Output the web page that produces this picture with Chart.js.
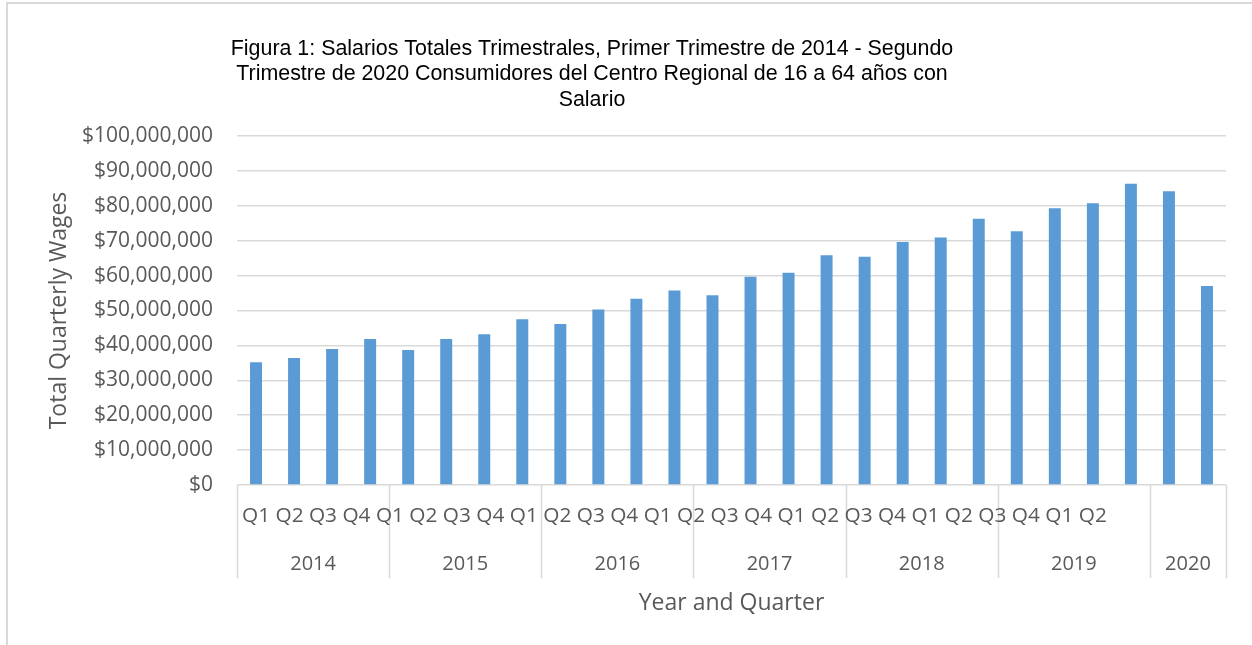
<!DOCTYPE html>
<html>
<head>
<meta charset="utf-8">
<script src="https://cdn.jsdelivr.net/npm/chart.js@4/dist/chart.umd.min.js"></script>
<style>
  html, body { margin: 0; padding: 0; background: #fff; }
  #frame {
    position: absolute; left: 6px; top: 2px; width: 1300px; height: 700px;
    border-left: 2px solid #d9d9d9; border-top: 2px solid #d9d9d9;
  }
  #wrap { position: absolute; left: 0; top: 0; width: 1252px; height: 645px; }
</style>
</head>
<body>
<div id="frame"></div>
<div id="wrap"><canvas id="chart"></canvas></div>
<script>
const ctx = document.getElementById("chart");

const titleLines = [
  "Figura 1: Salarios Totales Trimestrales, Primer Trimestre de 2014 - Segundo",
  "Trimestre de 2020 Consumidores del Centro Regional de 16 a 64 años con",
  "Salario",
];

const years = ["2014", "2015", "2016", "2017", "2018", "2019", "2020"];
const quartersPerYear = [4, 4, 4, 4, 4, 4, 2];
const quarters = [
  "Q1", "Q2", "Q3", "Q4", "Q1", "Q2", "Q3", "Q4", "Q1", "Q2", "Q3", "Q4",
  "Q1", "Q2", "Q3", "Q4", "Q1", "Q2", "Q3", "Q4", "Q1", "Q2", "Q3", "Q4",
  "Q1", "Q2",
];

// total quarterly wages
const wages = [
  35200000, 36400000, 39000000, 41800000,
  38700000, 41800000, 43200000, 47500000,
  46100000, 50300000, 53400000, 55700000,
  54400000, 59700000, 60800000, 65800000,
  65400000, 69600000, 70900000, 76300000,
  72700000, 79300000, 80700000, 86300000,
  84200000, 57000000,
];

const textGrey = "#595959";
const lineGrey = "#d9d9d9";

// Excel-style two-row category axis + chart title
const excelAxis = {
  id: "excelAxis",
  afterDraw(chart) {
    const c = chart.ctx;
    const area = chart.chartArea;
    const x = chart.scales.x;
    const half = (x.getPixelForValue(1) - x.getPixelForValue(0)) / 2;

    c.save();
    // title
    c.fillStyle = "#000";
    c.font = "21.4px 'Liberation Sans', Arial, sans-serif";
    c.textAlign = "center";
    c.textBaseline = "middle";
    titleLines.forEach((t, i) => c.fillText(t, 592, 49 + i * 25.5));

    // year group separators and labels
    c.strokeStyle = lineGrey;
    c.lineWidth = 1.5;
    c.fillStyle = textGrey;
    c.font = "20px 'Open Sans', sans-serif";
    let idx = 0;
    const edges = [area.left];
    years.forEach((y, i) => {
      const start = x.getPixelForValue(idx) - half;
      idx += quartersPerYear[i];
      const end = x.getPixelForValue(idx - 1) + half;
      edges.push(end);
      c.fillText(y, (start + end) / 2, 564);
    });
    edges.forEach((e) => {
      c.beginPath();
      c.moveTo(Math.round(e) + 0.5, area.bottom);
      c.lineTo(Math.round(e) + 0.5, area.bottom + 93);
      c.stroke();
    });

    // quarter labels run on as one line, as in the original
    c.textAlign = "left";
    c.font = "20.8px 'Open Sans', sans-serif";
    c.fillText(quarters.join(" "), area.left + 5, 516);
    c.restore();
  },
};

new Chart(ctx, {
  type: "bar",
  data: {
    labels: quarters,
    datasets: [
      {
        label: "Total Quarterly Wages",
        data: wages,
        backgroundColor: "#5b9bd5",
        borderWidth: 0,
        categoryPercentage: 1,
        barPercentage: 0.315,
      },
    ],
  },
  options: {
    responsive: true,
    maintainAspectRatio: false,
    animation: false,
    layout: { padding: { left: 0, right: 26, top: 136, bottom: 0 } },
    plugins: {
      legend: { display: false },
      tooltip: { enabled: false },
    },
    scales: {
      x: {
        grid: { display: false },
        border: { display: false },
        ticks: { display: false },
        title: {
          display: true,
          text: "Year and Quarter",
          color: textGrey,
          font: { family: "'Open Sans', sans-serif", size: 23 },
          padding: { bottom: 28 },
        },
        afterFit(scale) {
          scale.height = 160;
        },
      },
      y: {
        min: 0,
        max: 100000000,
        grid: { color: lineGrey, lineWidth: 1.5, drawTicks: false },
        border: { display: false },
        ticks: {
          stepSize: 10000000,
          padding: 24,
          color: textGrey,
          font: { family: "'Open Sans', sans-serif", size: 21 },
          callback: (v) => "$" + v.toLocaleString("en-US"),
        },
        title: {
          display: true,
          text: "Total Quarterly Wages",
          color: textGrey,
          font: { family: "'Open Sans', sans-serif", size: 23 },
          padding: { top: 46 },
        },
        afterFit(scale) {
          scale.width = 237;
        },
      },
    },
  },
  plugins: [excelAxis],
});
</script>
</body>
</html>
